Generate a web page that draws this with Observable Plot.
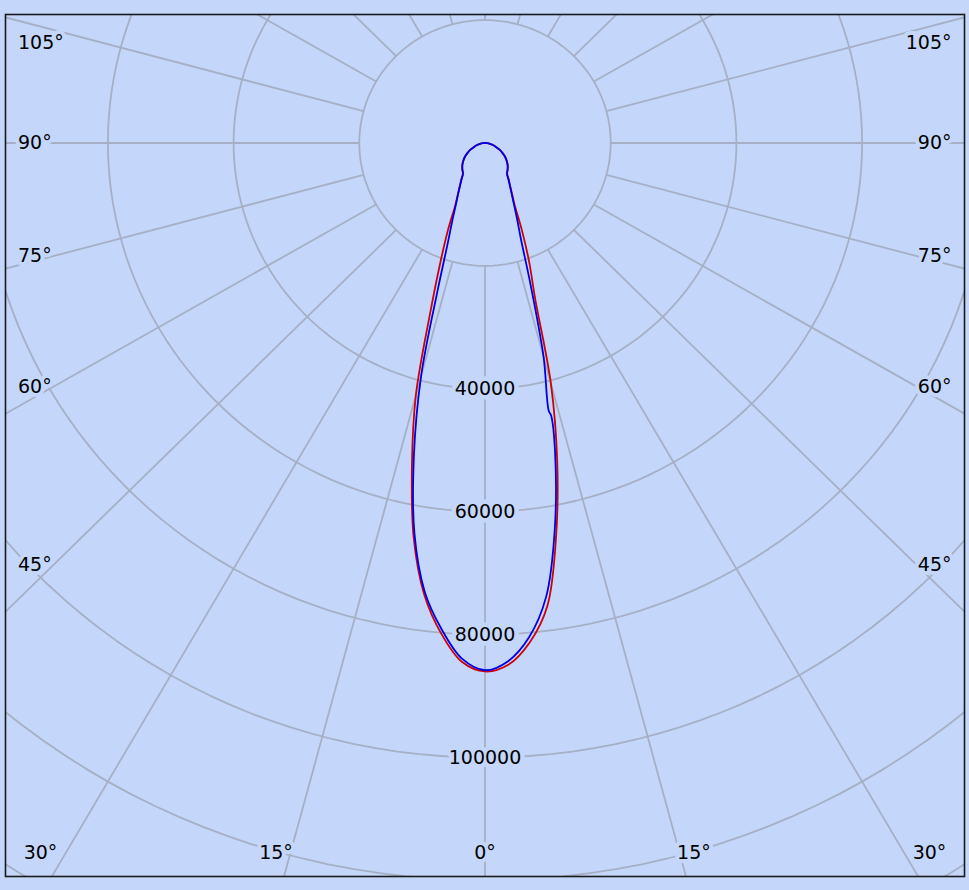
<!DOCTYPE html>
<html><head><meta charset="utf-8">
<script src="https://cdn.jsdelivr.net/npm/d3@7"></script>
<script src="https://cdn.jsdelivr.net/npm/@observablehq/plot@0.6"></script>
<style>
html,body{margin:0;padding:0;background:#c4d7fb;}
#wrap{position:relative;width:969px;height:890px;overflow:hidden;background:#c4d7fb;}
#topline{position:absolute;left:0;top:6px;width:969px;height:1px;background:#d9e3f7;}
#chart{position:absolute;left:0;top:0;}
#chart svg{overflow:hidden;}
</style></head><body>
<div id="wrap"><div id="topline"></div><div id="chart"></div></div>
<script>
// ---- data ----
const angleTicks = [0, 15, 30, 45, 60, 75, 90, 105];
const spokeAngles = [0, 15, 30, 45, 60, 75, 90, 105, 120, 135, 150, 165, 180, 195, 210, 225, 240, 255, 270, 285, 300, 315, 330, 345];
const ringValues = [20000, 40000, 60000, 80000, 100000, 120000, 140000, 160000];
const ringLabels = [40000, 60000, 80000, 100000];

const blueAngles = [-90,-85,-80,-75,-70,-65,-60,-55,-50,-45,-40,-35,-32.5,-30,-27.5,-25,-22.5,-20,-17.5,-15,-12.5,-10,-7.5,-5,-2.5,0,2.5,5,7.5,10,12.5,13.35,13.1,15,17.5,20,22.5,25,27.5,30,32.5,35,40,45,50,55,60,65,70,75,80,85,90];
const blueValues = [0,350,800,1300,1850,2550,3200,3900,4500,5100,5600,6100,6900,7900,9200,10900,13500,17300,24900,39300,52300,64600,73600,79400,84000,85800,84400,80700,74500,63900,51500,45600,44700,36000,24000,16800,13300,10800,9100,7850,6900,6100,5600,5100,4500,3900,3200,2550,1850,1300,800,350,0];

const redAngles = [-90,-85,-80,-75,-70,-65,-60,-55,-50,-45,-40,-35,-32.5,-30,-27.5,-25,-22.5,-20,-17.5,-15,-12.5,-10,-7.5,-5,-2.5,0,2.5,5,7.5,10,12.5,15,17.5,20,22.5,25,27.5,30,32.5,35,40,45,50,55,60,65,70,75,80,85,90];
const redValues = [0,350,800,1300,1850,2550,3200,3900,4500,5100,5600,6150,7000,7950,9300,11200,15500,20900,29000,42500,53700,65300,74100,80100,84500,86000,85000,81600,76000,65100,53100,40500,26500,20500,15300,11200,9300,7950,7000,6150,5600,5100,4500,3900,3200,2550,1850,1300,800,350,0];

// ---- layout ----
const W = 969, H = 890;
const frame = {left: 5, top: 14, right: 964, bottom: 876};
const cx = 484.5, cy = 142.5;              // pole position (px)
const kx = 125.7 / 20000, ky = 122.9 / 20000; // px per candela
const bg = "#c4d7fb", grid = "#a6afc4";
const font = "DejaVu Sans";

const rad = a => a * Math.PI / 180;
const px2x = p => (p - cx) / kx;
const px2y = p => (p - cy) / ky;

const blue = blueAngles.map((a, i) => ({a, v: blueValues[i]}));
const red = redAngles.map((a, i) => ({a, v: redValues[i]}));

const ringPts = ringValues.flatMap(r => d3.range(0, 361, 2).map(a => ({r, a})));

// angle labels
const leftLab = [], rightLab = [], bottomLab = [];
for (const t of angleTicks) {
  if (t >= 45) {
    let yp = t === 90 ? cy : cy + (432 / kx) / Math.tan(rad(t)) * ky;
    yp = Math.max(42, yp);
    leftLab.push({t, x: px2x(17.5), y: px2y(yp)});
    rightLab.push({t, x: px2x(951), y: px2y(yp)});
  } else {
    for (const s of (t === 0 ? [1] : [-1, 1])) {
      let xp = cx + s * ((905 - cy) / ky) * Math.tan(rad(t)) * kx;
      xp = Math.min(929, Math.max(40, xp));
      bottomLab.push({t, x: px2x(xp), y: px2y(852)});
    }
  }
}
const labOpts = {x: "x", y: "y", text: d => d.t + "°", fill: "#000", stroke: bg, strokeWidth: 8, fontSize: 19, fontFamily: font};
const polar = {x: d => d.v * Math.sin(rad(d.a)), y: d => d.v * Math.cos(rad(d.a))};

const plot = Plot.plot({
  width: W, height: H,
  marginLeft: frame.left, marginRight: W - frame.right,
  marginTop: frame.top, marginBottom: H - frame.bottom,
  x: {domain: [px2x(frame.left), px2x(frame.right)], range: [frame.left, frame.right], axis: null},
  y: {domain: [px2y(frame.top), px2y(frame.bottom)], range: [frame.top, frame.bottom], axis: null},
  style: {background: bg, fontFamily: font},
  marks: [
    Plot.line(ringPts, {x: d => d.r * Math.sin(rad(d.a)), y: d => d.r * Math.cos(rad(d.a)), z: "r",
      stroke: grid, strokeWidth: 1.8, clip: true}),
    Plot.link(spokeAngles, {
      x1: a => 20000 * Math.sin(rad(a)), y1: a => 20000 * Math.cos(rad(a)),
      x2: a => 200000 * Math.sin(rad(a)), y2: a => 200000 * Math.cos(rad(a)),
      stroke: grid, strokeWidth: 1.8, clip: true}),
    Plot.text(ringLabels, {x: 0, y: d => d, text: d => String(d), fill: "#000",
      stroke: bg, strokeWidth: 9, fontSize: 19, fontFamily: font, textAnchor: "middle"}),
    Plot.text(leftLab, {...labOpts, textAnchor: "start"}),
    Plot.text(rightLab, {...labOpts, textAnchor: "end"}),
    Plot.text(bottomLab, {...labOpts, textAnchor: "middle"}),
    Plot.line(red, {...polar, curve: "catmull-rom", stroke: "#d00000", strokeWidth: 1.8, clip: true}),
    Plot.line(blue, {...polar, curve: "catmull-rom", stroke: "#0000e6", strokeWidth: 1.8, clip: true}),
    Plot.frame({stroke: "#1a1a1a", strokeWidth: 1.6})
  ]
});
document.getElementById("chart").appendChild(plot);
</script>
</body></html>
